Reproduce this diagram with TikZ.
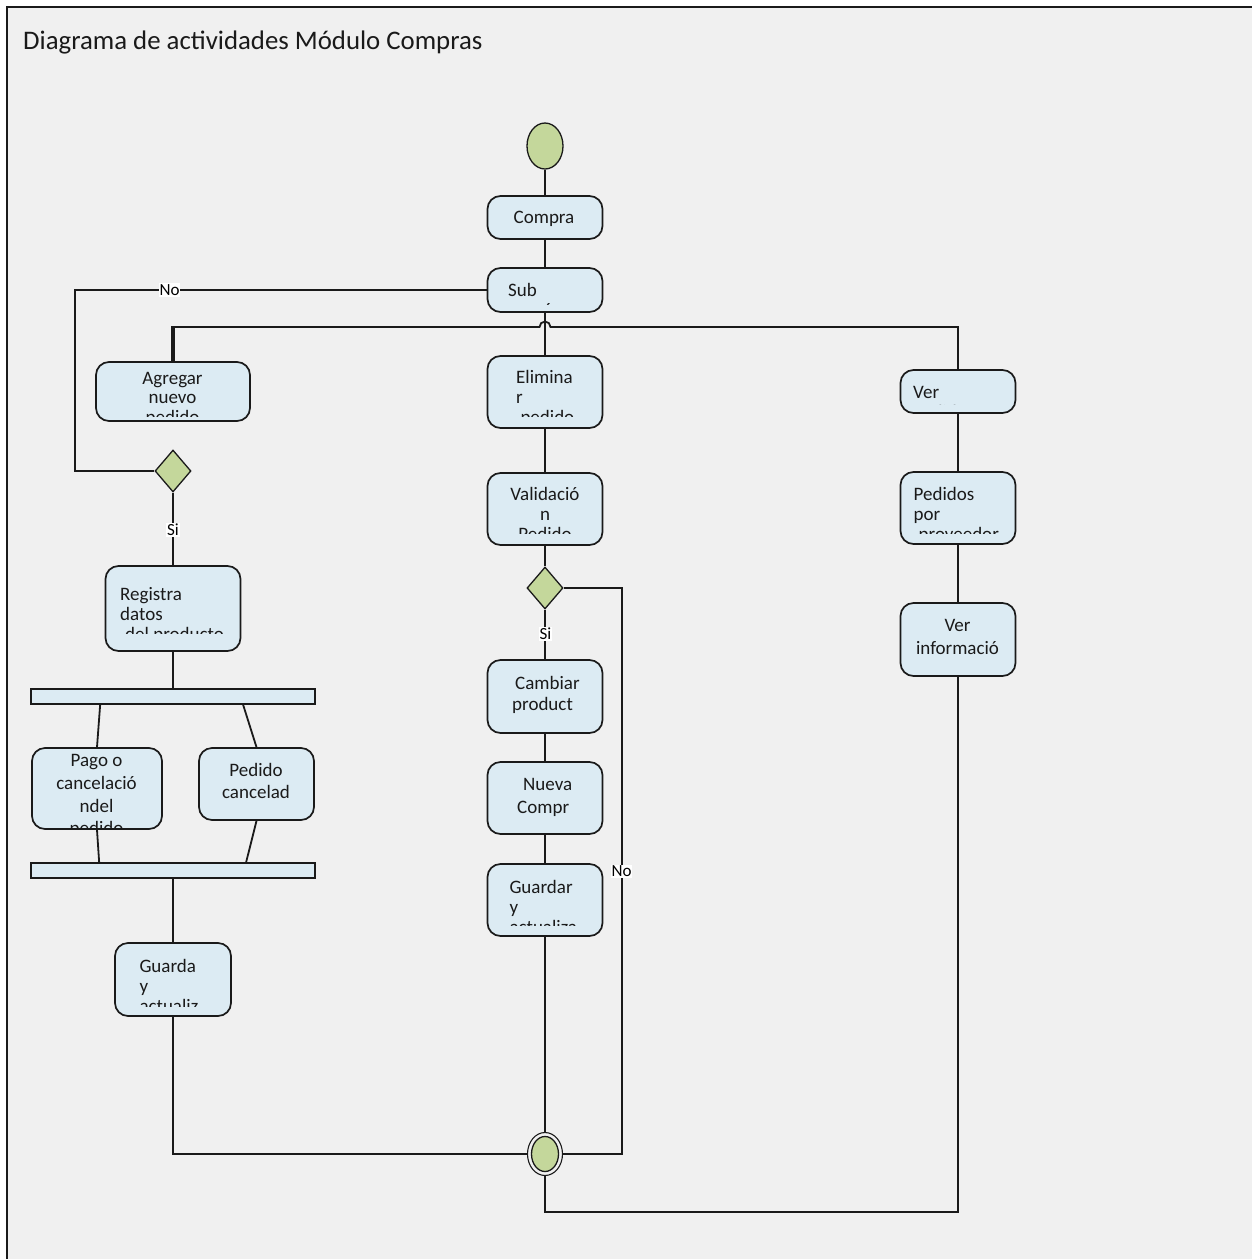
\documentclass[tikz,border=0pt]{standalone}
\usepackage{fontspec}
\setmainfont{Carlito}
\usetikzlibrary{shapes.geometric,calc}

\definecolor{bg}{HTML}{F0F0F0}
\definecolor{boxfill}{HTML}{DCEBF3}
\definecolor{greenfill}{HTML}{C4D79B}
\definecolor{ink}{HTML}{1A1A1A}

% multi-line text block whose baseline is the first line's baseline
\newcommand\lns[3]{\fontsize{19}{#1}\selectfont\begin{tabular}[t]{@{}#2@{}}#3\end{tabular}}

\begin{document}
\begin{tikzpicture}[x=1pt,y=-1pt,
  actbox/.style={draw=ink, line width=1.7pt, fill=boxfill, rounded corners=13pt, inner sep=0pt},
  syncbar/.style={draw=ink, line width=1.7pt, fill=boxfill, inner sep=0pt, minimum width=284pt, minimum height=15pt},
  decision/.style={diamond, draw=ink, line width=1.3pt, fill=greenfill, minimum width=36pt, minimum height=42pt, inner sep=0pt},
  conn/.style={draw=ink, line width=1.8pt},
  guard/.style={fill=white, inner sep=1pt, font=\fontsize{17}{17}\selectfont},
  btxt/.style={inner sep=0pt, text=ink},
]
\useasboundingbox (0,0) rectangle (1252,1259);
\fill[white] (0,0) rectangle (1252,1259);
\fill[bg] (7,7) rectangle (1252,1259);
\draw[ink, line width=2pt] (7,1259) -- (7,7) -- (1252,7);

\node[anchor=base west, inner sep=0pt, text=ink, font=\fontsize{26.8}{30}\selectfont] (title) at (23,49) {Diagrama de actividades Módulo Compras};

% start and end
\node[ellipse, draw=ink, line width=1.3pt, fill=greenfill, minimum width=36pt, minimum height=46pt, inner sep=0pt] (start) at (545,146) {};
\node[ellipse, draw=ink, line width=1.1pt, minimum width=35pt, minimum height=43pt, inner sep=0pt] (final) at (545,1154) {};
\node[ellipse, draw=ink, line width=1.3pt, fill=greenfill, minimum width=27pt, minimum height=35pt, inner sep=0pt] (finalcore) at (545,1154) {};

% activities
\node[actbox, minimum width=115pt, minimum height=43pt] (compra)   at (545,217.5) {};
\node[actbox, minimum width=115pt, minimum height=44pt] (sub)      at (545,290) {};
\node[actbox, minimum width=154pt, minimum height=59pt] (agregar)  at (173,391.5) {};
\node[actbox, minimum width=115pt, minimum height=72pt] (elim)     at (545,392) {};
\node[actbox, minimum width=115pt, minimum height=72pt] (valid)    at (545,509) {};
\node[actbox, minimum width=115pt, minimum height=43pt] (ver)      at (958,391.5) {};
\node[actbox, minimum width=115pt, minimum height=72pt] (pedidos)  at (958,508) {};
\node[actbox, minimum width=115pt, minimum height=73pt] (vinfo)    at (958,639.5) {};
\node[actbox, minimum width=135pt, minimum height=85pt] (registra) at (173,608.5) {};
\node[actbox, minimum width=130pt, minimum height=81pt] (pago)     at (97,788.5) {};
\node[actbox, minimum width=115pt, minimum height=72pt] (pedcan)   at (256.5,784) {};
\node[actbox, minimum width=115pt, minimum height=73pt] (cambiar)  at (545,696.5) {};
\node[actbox, minimum width=115pt, minimum height=72pt] (nueva)    at (545,798) {};
\node[actbox, minimum width=115pt, minimum height=72pt] (guardar)  at (545,900) {};
\node[actbox, minimum width=116pt, minimum height=73pt] (guarda)   at (173,979.5) {};

% decisions and sync bars
\node[decision] (dec1) at (173,471) {};
\node[decision] (dec2) at (545,588) {};
\node[syncbar] (bar1) at (173,696.5) {};
\node[syncbar] (bar2) at (173,870.5) {};

% activity texts (long texts are cut off by their text area)
\node[btxt, anchor=base] (tcompra) at (544,223) {\fontsize{19}{20}\selectfont Compra};
\begin{scope}\clip (0,0) rectangle (1252,304);
  \node[btxt, anchor=base west] (tsub) at (508,296) {\lns{20}{l}{Sub\\menú}};
\end{scope}
\begin{scope}\clip (0,0) rectangle (1252,416.5);
  \node[btxt, anchor=base] (tagregar) at (172.5,384) {\lns{19.5}{c}{Agregar\\nuevo\\pedido}};
\end{scope}
\begin{scope}\clip (0,0) rectangle (1252,416.5);
  \node[btxt, anchor=base west] (telim) at (516,383.5) {\lns{20}{l}{Elimina\\r\\\hspace{4.3pt}pedido}};
\end{scope}
\begin{scope}\clip (0,0) rectangle (1252,533);
  \node[btxt, anchor=base] (tvalid) at (545,500) {\lns{20}{c}{Validació\\n\\Pedido}};
\end{scope}
\begin{scope}\clip (0,0) rectangle (1252,404);
  \node[btxt, anchor=base west] (tver) at (913,398.5) {\lns{19.5}{l}{Ver\\pedidos}};
\end{scope}
\begin{scope}\clip (0,0) rectangle (1252,533);
  \node[btxt, anchor=base west] (tpedidos) at (913.5,500) {\lns{20}{l}{Pedidos\\por\\\hspace{5pt}proveedor}};
\end{scope}
\node[btxt, anchor=base] (tvinfo) at (957.5,631.7) {\lns{22.3}{c}{Ver\\informació}};
\begin{scope}\clip (0,0) rectangle (1252,633);
  \node[btxt, anchor=base west] (tregistra) at (120,600) {\lns{20}{l}{Registra\\datos\\\hspace{5pt}del producto}};
\end{scope}
\begin{scope}\clip (0,0) rectangle (1252,827);
  \node[btxt, anchor=base] (tpago) at (96.5,766.7) {\lns{22.7}{c}{Pago o\\cancelació\\ndel\\pedido}};
\end{scope}
\node[btxt, anchor=base] (tpedcan) at (256,776.7) {\lns{22}{c}{Pedido\\cancelad}};
\node[btxt, anchor=base west] (tcambiar) at (512,689) {\lns{21.7}{l}{\hspace{3pt}Cambiar\\product}};
\node[btxt, anchor=base west] (tnueva) at (517,790.7) {\lns{22.3}{l}{\hspace{6pt}Nueva\\Compr}};
\begin{scope}\clip (0,0) rectangle (1252,925.5);
  \node[btxt, anchor=base west] (tguardar) at (509.3,893) {\lns{20}{l}{Guardar\\y\\actualiza}};
\end{scope}
\begin{scope}\clip (0,0) rectangle (1252,1006);
  \node[btxt, anchor=base west] (tguarda) at (139.3,972) {\lns{20.3}{l}{Guarda\\y\\actualiz}};
\end{scope}

% main column
\draw[conn] (start.south) -- (compra.north);
\draw[conn] (compra.south) -- (sub.north);
\draw[conn] (sub.south) -- (elim.north);
\draw[conn] (elim.south) -- (valid.north);
\draw[conn] (valid.south) -- (dec2.north);
\draw[conn] (dec2.south) -- (cambiar.north);
\draw[conn] (cambiar.south) -- (nueva.north);
\draw[conn] (nueva.south) -- (guardar.north);
\draw[conn] (guardar.south) -- (final.north);
\draw[conn] (dec2.east) -- ++(58,0) |- (final.east);

% branch line over the main column, with a hop
\draw[conn] (agregar.north) |- (539.5,327) arc[start angle=180, end angle=360, radius=5.5] -| (ver.north);
\draw[ink, line width=3.2pt] (agregar.north) -- ++(0,-35);

% right column
\draw[conn] (ver.south) -- (pedidos.north);
\draw[conn] (pedidos.south) -- (vinfo.north);
\draw[conn] (final.south) -- ++(0,36) -| (vinfo.south);

% left column
\draw[conn] (sub.west) -- ++(-412,0) |- (dec1.west);
\draw[conn] (dec1.south) -- (registra.north);
\draw[conn] (registra.south) -- (registra.south |- bar1.north);
\draw[conn] ([xshift=70pt]bar1.south west) -- (pago.north);
\draw[conn] ([xshift=213pt]bar1.south west) -- (pedcan.north);
\draw[conn] (pago.south) -- ([xshift=69pt]bar2.north west);
\draw[conn] (pedcan.south) -- ([xshift=216pt]bar2.north west);
\draw[conn] (bar2.south -| guarda.north) -- (guarda.north);
\draw[conn] (guarda.south) |- (final.west);

% guard labels
\node[guard] (gno1) at (169.5,290) {No};
\node[guard] (gsi1) at (173,530) {Si};
\node[guard] (gsi2) at (545.5,634) {Si};
\node[guard] (gno2) at (621.5,871) {No};
\end{tikzpicture}
\end{document}
